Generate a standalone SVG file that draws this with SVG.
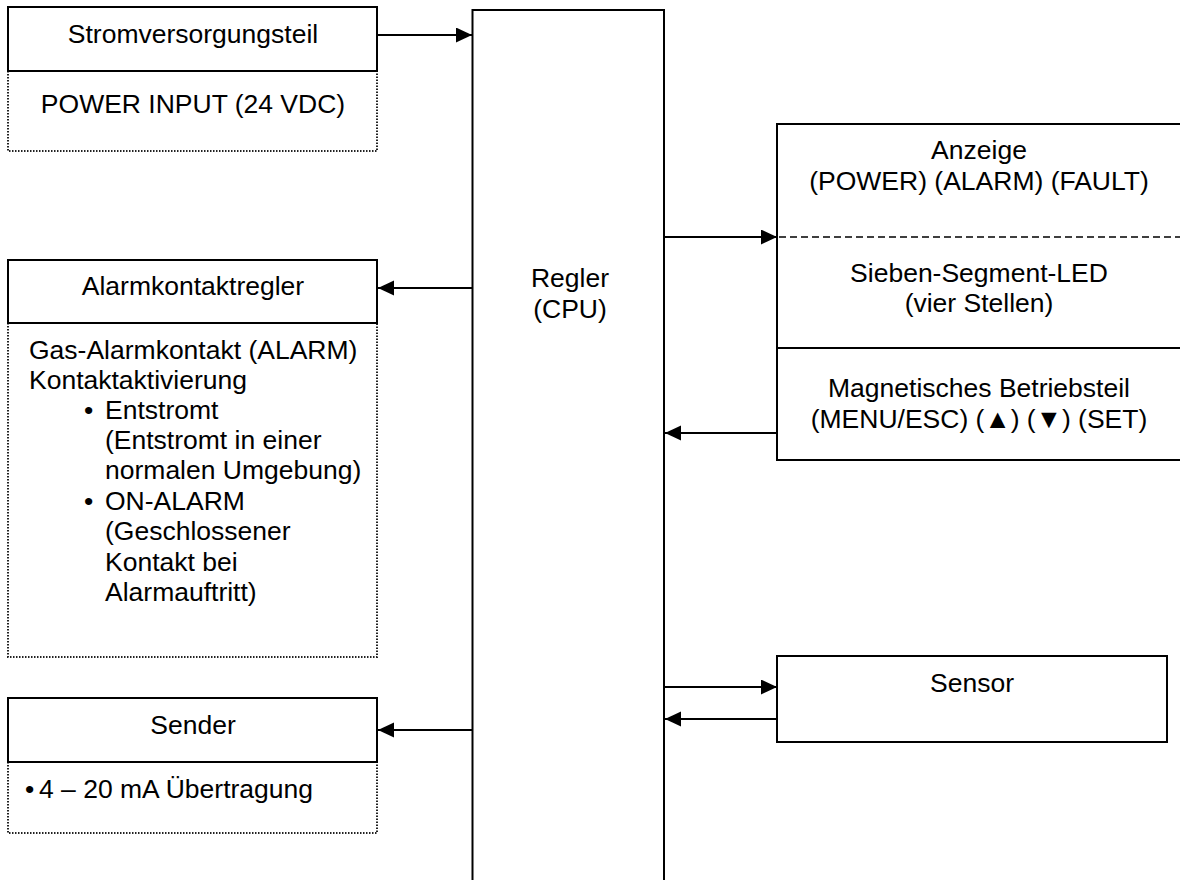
<svg xmlns="http://www.w3.org/2000/svg" width="1180" height="880" viewBox="0 0 1180 880">
  <style>
    text { font-family: "Liberation Sans", Arial, sans-serif; font-size: 26.5px; fill: #000; }
    .c { text-anchor: middle; }
    .box { fill: #fff; stroke: #000; stroke-width: 2; }
    .edge { fill: none; stroke: #000; stroke-width: 2; }
    .dot { fill: none; stroke: #222; stroke-width: 2; stroke-dasharray: 1.5 1.5; }
    .dash { fill: none; stroke: #000; stroke-width: 1.5; stroke-dasharray: 7 4; }
    .link { fill: none; stroke: #000; stroke-width: 2; marker-end: url(#arrow); }
  </style>
  <defs>
    <marker id="arrow" markerUnits="userSpaceOnUse" markerWidth="17" markerHeight="16" refX="16" refY="7.5" orient="auto">
      <path d="M0,0 L16,7.5 L0,15 Z" fill="#000"/>
    </marker>
  </defs>
  <rect width="1180" height="880" fill="#fff"/>

  <!-- central controller -->
  <g id="cpu">
    <rect class="box" x="472.5" y="10" width="191.5" height="900"/>
    <text class="c" x="570" y="287">Regler</text>
    <text class="c" x="570" y="318">(CPU)</text>
  </g>

  <!-- power supply -->
  <g id="power">
    <path class="dot" d="M8,71 V151 H377 V71"/>
    <rect class="box" x="8" y="7" width="369" height="64"/>
    <text class="c" x="193" y="43">Stromversorgungsteil</text>
    <text class="c" x="193" y="113">POWER INPUT (24 VDC)</text>
  </g>

  <!-- alarm contact controller -->
  <g id="alarm">
    <path class="dot" d="M8,323 V657 H377 V323"/>
    <rect class="box" x="8" y="260" width="369" height="63"/>
    <text class="c" x="193" y="295">Alarmkontaktregler</text>
    <text x="29" y="359">Gas-Alarmkontakt (ALARM)</text>
    <text x="29" y="389">Kontaktaktivierung</text>
    <text x="84" y="419">•</text>
    <text x="105" y="419">Entstromt</text>
    <text x="105" y="449">(Entstromt in einer</text>
    <text x="105" y="479">normalen Umgebung)</text>
    <text x="84" y="510">•</text>
    <text x="105" y="510">ON-ALARM</text>
    <text x="105" y="540">(Geschlossener</text>
    <text x="105" y="571">Kontakt bei</text>
    <text x="105" y="601">Alarmauftritt)</text>
  </g>

  <!-- transmitter -->
  <g id="sender">
    <path class="dot" d="M8,762 V833 H377 V762"/>
    <rect class="box" x="8" y="698" width="369" height="64"/>
    <text class="c" x="193" y="734">Sender</text>
    <text x="25" y="798">•</text>
    <text x="39" y="798">4 – 20 mA Übertragung</text>
  </g>

  <!-- display / LED / magnetic operation panel -->
  <g id="display">
    <path class="box" d="M1184,124 H777 V460 H1184"/>
    <path class="dash" d="M779,237 H1182"/>
    <path class="edge" d="M777,348 H1182"/>
    <text class="c" x="979" y="159">Anzeige</text>
    <text class="c" x="979" y="190">(POWER) (ALARM) (FAULT)</text>
    <text class="c" x="979" y="282">Sieben-Segment-LED</text>
    <text class="c" x="979" y="312">(vier Stellen)</text>
    <text class="c" x="979" y="397">Magnetisches Betriebsteil</text>
    <text class="c" x="979" y="428">(MENU/ESC) (▲) (▼) (SET)</text>
  </g>

  <!-- sensor -->
  <g id="sensor">
    <rect class="box" x="777" y="656" width="390" height="86"/>
    <text class="c" x="972" y="692">Sensor</text>
  </g>

  <!-- connectors -->
  <g id="connectors">
    <path class="link" d="M377,35 H472"/>
    <path class="link" d="M472,288 H378"/>
    <path class="link" d="M472,730 H378"/>
    <path class="link" d="M664,237 H777"/>
    <path class="link" d="M777,433 H665"/>
    <path class="link" d="M664,687 H777"/>
    <path class="link" d="M777,719 H665"/>
  </g>
</svg>
